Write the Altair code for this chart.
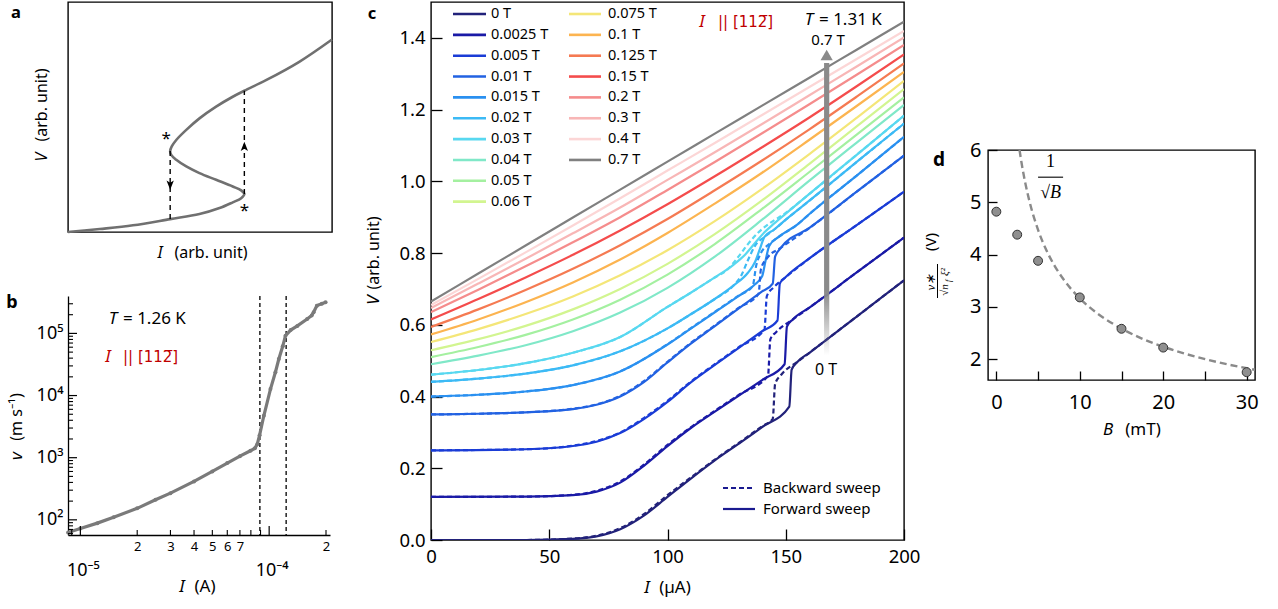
import altair as alt
import pandas as pd

FONT = "Noto Sans"
SERIF = "Liberation Serif"
MILLER = "DejaVu Sans"

# ======================= DATA =======================
# ---- panel a : schematic S-shaped V(I) ----
a_I = [0.0, 0.12, 0.246, 0.387, 0.498, 0.574, 0.624, 0.656, 0.668, 0.656, 0.624, 0.561, 0.498,
       0.448, 0.41, 0.391, 0.387, 0.393, 0.41, 0.448, 0.498, 0.561, 0.624, 0.668, 0.75, 0.876, 1.0]
a_V = [0.0, 0.013, 0.029, 0.056, 0.078, 0.104, 0.129, 0.147, 0.165, 0.181, 0.198, 0.227, 0.256,
       0.285, 0.314, 0.335, 0.352, 0.372, 0.40, 0.444, 0.494, 0.545, 0.588, 0.614, 0.66, 0.74, 0.837]
a_dash_I = [0.387, 0.668]
a_dash_lo = [0.056, 0.165]
a_dash_hi = [0.352, 0.614]
a_arrow_I = [0.387, 0.668]
a_arrow_V = [0.205, 0.371]
a_arrow_dir = ["down", "up"]
a_star_I = [0.372, 0.668]
a_star_V = [0.405, 0.092]

# ---- panel b : v(I) log-log ----
b_I = [8.61e-6, 1.0e-5, 1.23e-5, 1.5e-5, 2.0e-5, 2.5e-5, 3.0e-5, 4.0e-5, 5.0e-5, 6.0e-5, 7.0e-5,
       7.96e-5, 8.4e-5, 8.65e-5, 8.9e-5, 9.37e-5, 1.016e-4, 1.079e-4, 1.125e-4, 1.18e-4, 1.22e-4,
       1.30e-4, 1.41e-4, 1.59e-4, 1.68e-4, 1.72e-4, 1.79e-4, 1.9e-4, 1.99e-4]
b_v = [62.7, 72.4, 88.5, 110, 153, 210, 269, 415, 601, 818, 1057,
       1292, 1420, 1650, 2300, 4730, 12700, 23700, 38700, 62000, 91800,
       113000, 132000, 170600, 195000, 219000, 280000, 300000, 316000]
b_vlines = [8.93e-5, 1.23e-4]
b_xlabels = [2e-5, 3e-5, 4e-5, 5e-5, 6e-5, 7e-5, 2e-4]
b_xmajor = [1e-5, 1e-4]
b_xmajor_text = ["10⁻⁵", "10⁻⁴"]
b_xminor = [9e-6, 2e-5, 3e-5, 4e-5, 5e-5, 6e-5, 7e-5, 8e-5, 9e-5, 2e-4]
b_ymajor = [1e2, 1e3, 1e4, 1e5]
b_yminor = [60, 70, 80, 90, 200, 300, 400, 500, 600, 700, 800, 900,
            2e3, 3e3, 4e3, 5e3, 6e3, 7e3, 8e3, 9e3,
            2e4, 3e4, 4e4, 5e4, 6e4, 7e4, 8e4, 9e4, 2e5, 3e5]

# ---- panel c : V(I) curves for several fields ----
c_fields = ["0 T", "0.0025 T", "0.005 T", "0.01 T", "0.015 T", "0.02 T", "0.03 T", "0.04 T",
            "0.05 T", "0.06 T", "0.075 T", "0.1 T", "0.125 T", "0.15 T", "0.2 T", "0.3 T",
            "0.4 T", "0.7 T"]
c_colors = ["#22227a", "#1a1aa6", "#1a3cd6", "#2262e2", "#2a90f0", "#3cbaf5", "#58d8f0", "#80e8c8",
            "#a4f0a0", "#d2f590", "#f4e678", "#fcb450", "#f57a52", "#f44c4c", "#f58c8c", "#f8b6b6",
            "#fcd6d6", "#808080"]

# forward sweeps (solid)
fw_0T_I = [0, 40, 60, 70, 80, 90, 100, 110, 120, 130, 140, 151.5, 152.5, 155, 160, 180, 200]
fw_0T_V = [0.0, 0.0, 0.003, 0.01, 0.03, 0.068, 0.12, 0.172, 0.222, 0.268, 0.315, 0.372, 0.475, 0.497, 0.522, 0.623, 0.724]
fw_0025_I = [0, 40, 60, 70, 80, 90, 100, 110, 120, 130, 140, 149.5, 150.5, 153, 160, 180, 200]
fw_0025_V = [0.12, 0.121, 0.125, 0.135, 0.16, 0.207, 0.262, 0.313, 0.358, 0.402, 0.446, 0.49, 0.595, 0.615, 0.648, 0.746, 0.843]
fw_005_I = [0, 40, 60, 70, 80, 90, 100, 110, 120, 130, 140, 146.5, 147.5, 150, 160, 180, 200]
fw_005_V = [0.25, 0.253, 0.262, 0.274, 0.298, 0.337, 0.385, 0.44, 0.488, 0.535, 0.582, 0.612, 0.715, 0.733, 0.785, 0.878, 0.971]
fw_01_I = [0, 20, 40, 60, 70, 80, 90, 100, 110, 120, 130, 140, 144.5, 145.5, 148, 160, 180, 200]
fw_01_V = [0.35, 0.352, 0.356, 0.365, 0.377, 0.40, 0.44, 0.495, 0.548, 0.596, 0.645, 0.693, 0.715, 0.79, 0.815, 0.87, 0.971, 1.072]
fw_015_I = [0, 20, 40, 60, 80, 100, 110, 120, 130, 137, 140, 141.5, 143, 147, 155, 160, 180, 200]
fw_015_V = [0.40, 0.405, 0.414, 0.432, 0.47, 0.545, 0.59, 0.635, 0.68, 0.713, 0.735, 0.78, 0.82, 0.845, 0.88, 0.909, 1.016, 1.124]
fw_02_I = [0, 20, 40, 60, 80, 100, 110, 120, 128, 134, 137, 139, 141, 145, 150, 160, 180, 200]
fw_02_V = [0.441, 0.45, 0.464, 0.487, 0.526, 0.59, 0.63, 0.672, 0.71, 0.745, 0.775, 0.81, 0.845, 0.865, 0.893, 0.946, 1.054, 1.161]
fw_03_I = [0, 20, 40, 60, 80, 100, 110, 120, 128, 133, 137, 141, 145, 150, 160, 180, 200]
fw_03_V = [0.461, 0.474, 0.493, 0.522, 0.566, 0.65, 0.69, 0.732, 0.768, 0.797, 0.828, 0.858, 0.882, 0.91, 0.965, 1.074, 1.183]

# backward sweeps (dashed)
bw_0T_I = [0, 40, 60, 70, 80, 90, 100, 110, 120, 130, 140, 144.5, 145.5, 148, 155, 160, 180, 200]
bw_0T_V = [0.0, 0.0, 0.004, 0.012, 0.033, 0.072, 0.125, 0.175, 0.224, 0.27, 0.317, 0.338, 0.435, 0.46, 0.497, 0.522, 0.623, 0.724]
bw_0025_I = [0, 40, 60, 70, 80, 90, 100, 110, 120, 130, 142.5, 143.5, 146, 153, 160, 180, 200]
bw_0025_V = [0.12, 0.121, 0.126, 0.137, 0.163, 0.21, 0.265, 0.315, 0.36, 0.404, 0.458, 0.56, 0.58, 0.615, 0.648, 0.746, 0.843]
bw_005_I = [0, 40, 60, 70, 80, 90, 100, 110, 120, 130, 141, 142, 145, 150, 160, 180, 200]
bw_005_V = [0.25, 0.253, 0.263, 0.276, 0.3, 0.34, 0.388, 0.442, 0.49, 0.537, 0.587, 0.68, 0.705, 0.733, 0.785, 0.878, 0.971]
bw_01_I = [0, 20, 40, 60, 70, 80, 90, 100, 110, 120, 130, 138.5, 139.5, 142, 148, 160, 180, 200]
bw_01_V = [0.35, 0.352, 0.356, 0.366, 0.378, 0.402, 0.443, 0.497, 0.55, 0.598, 0.647, 0.686, 0.755, 0.785, 0.815, 0.87, 0.971, 1.072]
bw_015_I = [0, 20, 40, 60, 80, 100, 110, 120, 130, 136, 137.5, 139.5, 143, 147, 155, 160, 180, 200]
bw_015_V = [0.40, 0.405, 0.414, 0.432, 0.47, 0.546, 0.591, 0.636, 0.681, 0.708, 0.765, 0.80, 0.825, 0.845, 0.88, 0.909, 1.016, 1.124]
bw_02_I = [0, 20, 40, 60, 80, 100, 110, 120, 128, 131, 134, 137, 141, 145, 150, 160, 180, 200]
bw_02_V = [0.441, 0.45, 0.464, 0.487, 0.526, 0.59, 0.63, 0.672, 0.71, 0.735, 0.78, 0.82, 0.845, 0.865, 0.893, 0.946, 1.054, 1.161]
bw_03_I = [0, 20, 40, 60, 80, 100, 110, 120, 125, 130, 134, 138, 143, 150, 160, 180, 200]
bw_03_V = [0.461, 0.474, 0.493, 0.522, 0.566, 0.65, 0.69, 0.732, 0.752, 0.79, 0.825, 0.855, 0.882, 0.912, 0.965, 1.074, 1.183]

# higher-field curves (no hysteresis), sampled at common currents
c_hi_I = [0, 20, 40, 60, 80, 100, 120, 140, 160, 180, 200]
hi_004 = [0.490, 0.514, 0.543, 0.582, 0.634, 0.703, 0.790, 0.893, 1.002, 1.108, 1.213]
hi_005 = [0.510, 0.538, 0.572, 0.615, 0.670, 0.740, 0.825, 0.923, 1.026, 1.130, 1.234]
hi_006 = [0.529, 0.560, 0.597, 0.643, 0.700, 0.770, 0.853, 0.947, 1.049, 1.153, 1.257]
hi_0075 = [0.552, 0.588, 0.630, 0.679, 0.738, 0.808, 0.889, 0.979, 1.076, 1.177, 1.280]
hi_01 = [0.573, 0.615, 0.663, 0.718, 0.782, 0.856, 0.938, 1.024, 1.116, 1.210, 1.305]
hi_0125 = [0.594, 0.643, 0.697, 0.756, 0.822, 0.895, 0.975, 1.058, 1.145, 1.236, 1.329]
hi_015 = [0.615, 0.672, 0.732, 0.795, 0.863, 0.936, 1.014, 1.095, 1.178, 1.265, 1.354]
hi_02 = [0.635, 0.698, 0.763, 0.830, 0.900, 0.976, 1.054, 1.134, 1.215, 1.297, 1.380]
hi_03 = [0.647, 0.715, 0.784, 0.855, 0.927, 1.004, 1.081, 1.160, 1.240, 1.320, 1.401]
hi_04 = [0.655, 0.728, 0.802, 0.877, 0.953, 1.030, 1.107, 1.185, 1.263, 1.341, 1.419]
hi_07 = [0.665, 0.743, 0.821, 0.899, 0.977, 1.055, 1.133, 1.211, 1.289, 1.367, 1.445]

# ---- panel d ----
d_B = [0, 2.5, 5, 10, 15, 20, 30]
d_y = [4.82, 4.38, 3.88, 3.18, 2.58, 2.22, 1.75]
d_fit_B = [2.78, 3.0, 3.5, 4, 5, 6, 7, 8, 10, 12, 14, 17, 20, 24, 28, 31]
d_fit_y = [6.0, 5.774, 5.345, 5.0, 4.472, 4.082, 3.780, 3.536, 3.162, 2.887, 2.673, 2.425, 2.236, 2.041, 1.890, 1.796]

# ======================= HELPERS =======================
def ptext(s, x, y, size=16, angle=0, italic=False, bold=False, color="black",
          align="center", baseline="middle", font=FONT):
    kw = dict(align=align, baseline=baseline, fontSize=size, color=color, font=font)
    if angle:
        kw["angle"] = angle
    if italic:
        kw["fontStyle"] = "italic"
    if bold:
        kw["fontWeight"] = "bold"
    return alt.Chart(pd.DataFrame({"t": [s]})).mark_text(**kw).encode(
        x=alt.value(x), y=alt.value(y), text="t:N")


# ======================= PANEL A =======================
WA, HA = 264, 230
XA = alt.X("I:Q", scale=alt.Scale(domain=[0, 1], nice=False), axis=None)
YA = alt.Y("V:Q", scale=alt.Scale(domain=[0, 1], nice=False), axis=None)
P_UP = "M0,-1L0.75,0.9L0,0.45L-0.75,0.9Z"
P_DOWN = "M0,1L0.75,-0.9L0,-0.45L-0.75,-0.9Z"

a_curve = alt.Chart(pd.DataFrame({"I": a_I, "V": a_V, "k": list(range(len(a_I)))})).mark_line(
    interpolate="catmull-rom", color="#707070", strokeWidth=2.6).encode(x=XA, y=YA, order="k:Q")
a_dash = alt.Chart(pd.DataFrame({"I": a_dash_I, "V": a_dash_lo, "V2": a_dash_hi})).mark_rule(
    strokeDash=[5, 4], color="black", strokeWidth=1.4).encode(x=XA, y=YA, y2="V2:Q")
a_arr = alt.Chart(pd.DataFrame({"I": a_arrow_I, "V": a_arrow_V, "dir": a_arrow_dir})).mark_point(
    filled=True, color="black", opacity=1, size=95, strokeWidth=0).encode(
    x=XA, y=YA,
    shape=alt.Shape("dir:N", scale=alt.Scale(domain=["down", "up"], range=[P_DOWN, P_UP]), legend=None))
a_star = alt.Chart(pd.DataFrame({"I": a_star_I, "V": a_star_V})).mark_text(
    text="*", fontSize=17, font=FONT).encode(x=XA, y=YA)

panel_a = alt.layer(
    a_curve, a_dash, a_arr, a_star,
    ptext("V", -26, 155, 16, angle=270, italic=True),
    ptext("(arb. unit)", -26, 103, 16, angle=270),
    ptext("I", 92, 251, 16, italic=True),
    ptext("(arb. unit)", 143, 251, 16),
    ptext("a", -52, 16, 16.5, bold=True, baseline="alphabetic"),
).properties(width=WA, height=HA)

# ======================= PANEL B =======================
WB, HB = 262, 239
XS_B = alt.Scale(type="log", domain=[8.6e-6, 2.1e-4], nice=False)
YS_B = alt.Scale(type="log", domain=[57, 4.0e5], nice=False)
AX_BX = alt.Axis(values=b_xlabels,
                 labelExpr="round(datum.value*1e5) < 10 ? '' + round(datum.value*1e5) : '' + round(datum.value*1e4)",
                 ticks=False, domain=True, domainWidth=1.3, labelFontSize=13, labelPadding=5,
                 title=None, grid=False, labelFlush=False, labelOverlap=False)
AX_BY = alt.Axis(values=b_ymajor,
                 labelExpr="datum.value < 500 ? '10²' : datum.value < 5000 ? '10³' : datum.value < 50000 ? '10⁴' : '10⁵'",
                 ticks=False, domain=True, domainWidth=1.3, labelFontSize=18, labelPadding=5,
                 title=None, grid=False, labelFlush=False, labelOverlap=False)
XB = alt.X("I:Q", scale=XS_B, axis=AX_BX)
YB = alt.Y("v:Q", scale=YS_B, axis=AX_BY)

b_df = pd.DataFrame({"I": b_I, "v": b_v})
b_line = alt.Chart(b_df).mark_line(color="#7a7a7a", strokeWidth=3.2).encode(x=XB, y=YB)
b_pts = alt.Chart(b_df).mark_circle(color="#7a7a7a", opacity=1, size=16).encode(x=XB, y=YB)
b_vl = alt.Chart(pd.DataFrame({"I": b_vlines})).mark_rule(
    strokeDash=[4, 3], color="black", strokeWidth=1.3).encode(x=XB)
b_xtM = alt.Chart(pd.DataFrame({"I": b_xmajor})).mark_rule(color="black", strokeWidth=1.2).encode(
    x=XB, y=alt.value(HB), y2=alt.value(HB - 9))
b_xtm = alt.Chart(pd.DataFrame({"I": b_xminor})).mark_rule(color="black", strokeWidth=1.1).encode(
    x=XB, y=alt.value(HB), y2=alt.value(HB - 5))
b_ytM = alt.Chart(pd.DataFrame({"v": b_ymajor})).mark_rule(color="black", strokeWidth=1.2).encode(
    y=YB, x=alt.value(0), x2=alt.value(9))
b_ytm = alt.Chart(pd.DataFrame({"v": b_yminor})).mark_rule(color="black", strokeWidth=1.1).encode(
    y=YB, x=alt.value(0), x2=alt.value(5))
b_major_lbl = alt.Chart(pd.DataFrame({"I": b_xmajor, "t": b_xmajor_text})).mark_text(
    fontSize=18, font=FONT, baseline="middle", dx=3).encode(x=XB, y=alt.value(HB + 36), text="t:N")

panel_b = alt.layer(
    b_vl, b_line, b_pts, b_xtM, b_xtm, b_ytM, b_ytm, b_major_lbl,
    ptext("T", 45, 23, 17, italic=True),
    ptext("= 1.26 K", 55, 23, 17, align="left"),
    ptext("I", 40, 61, 17, italic=True, color="#c00000"),
    ptext("||  [112\u0305]", 55, 61, 15, align="left", color="#c00000", font=MILLER),
    ptext("v", -51, 160, 17, angle=270, italic=True),
    ptext("(m s⁻¹)", -51, 121, 16, angle=270),
    ptext("I", 114, 291, 17, italic=True),
    ptext("(A)", 137, 291, 17),
    ptext("b", -56, 12, 18, bold=True, baseline="alphabetic"),
).properties(width=WB, height=HB, view=alt.ViewBackground(stroke="transparent"))

# ======================= PANEL C =======================
WC, HC = 473, 538


def cI(px):
    return px / WC * 200.0


def cV(py):
    return 1.5 - py / HC * 1.5


AX_CX = alt.Axis(values=[0, 50, 100, 150, 200], title=None, labelFontSize=18.5, tickSize=11,
                 offset=-11, domain=False, labelPadding=7, tickWidth=1.3, grid=False,
                 labelFlush=False, labelOverlap=False)
AX_CY = alt.Axis(values=[0, 0.2, 0.4, 0.6, 0.8, 1.0, 1.2, 1.4], format=".1f", title=None,
                 labelFontSize=18.5, tickSize=11, offset=-11, domain=False, labelPadding=6,
                 tickWidth=1.3, grid=False, labelFlush=False, labelOverlap=False)
XC = alt.X("I:Q", scale=alt.Scale(domain=[0, 200], nice=False), axis=AX_CX)
YC = alt.Y("V:Q", scale=alt.Scale(domain=[0, 1.5], nice=False), axis=AX_CY)
CC = alt.Color("label:N", scale=alt.Scale(domain=c_fields, range=c_colors), legend=None)

fw = {"0 T": (fw_0T_I, fw_0T_V), "0.0025 T": (fw_0025_I, fw_0025_V), "0.005 T": (fw_005_I, fw_005_V),
      "0.01 T": (fw_01_I, fw_01_V), "0.015 T": (fw_015_I, fw_015_V), "0.02 T": (fw_02_I, fw_02_V),
      "0.03 T": (fw_03_I, fw_03_V)}
for lab, vals in [("0.04 T", hi_004), ("0.05 T", hi_005), ("0.06 T", hi_006), ("0.075 T", hi_0075),
                  ("0.1 T", hi_01), ("0.125 T", hi_0125), ("0.15 T", hi_015), ("0.2 T", hi_02),
                  ("0.3 T", hi_03), ("0.4 T", hi_04), ("0.7 T", hi_07)]:
    fw[lab] = (c_hi_I, vals)
bw = {"0 T": (bw_0T_I, bw_0T_V), "0.0025 T": (bw_0025_I, bw_0025_V), "0.005 T": (bw_005_I, bw_005_V),
      "0.01 T": (bw_01_I, bw_01_V), "0.015 T": (bw_015_I, bw_015_V), "0.02 T": (bw_02_I, bw_02_V),
      "0.03 T": (bw_03_I, bw_03_V)}


def long_df(d):
    rows = []
    for lab, (Is, Vs) in d.items():
        for i, v in zip(Is, Vs):
            rows.append({"label": lab, "I": i, "V": v})
    return pd.DataFrame(rows)


c_fw = alt.Chart(long_df(fw)).mark_line(interpolate="monotone", strokeWidth=2.2, clip=True).encode(
    x=XC, y=YC, color=CC)
c_bw = alt.Chart(long_df(bw)).mark_line(interpolate="monotone", strokeWidth=2.2, strokeDash=[5, 3],
                                        clip=True).encode(x=XC, y=YC, color=CC)

# legend (two columns), placed in plot coordinates
leg_sym, leg_txt = [], []
for k, lab in enumerate(c_fields[:10]):
    leg_sym.append({"label": lab, "I": cI(22), "I2": cI(55), "V": cV(12 + 20.85 * k)})
    leg_txt.append({"label": lab, "I": cI(60), "V": cV(12 + 20.85 * k)})
for k, lab in enumerate(c_fields[10:]):
    leg_sym.append({"label": lab, "I": cI(138), "I2": cI(170), "V": cV(12 + 20.85 * k)})
    leg_txt.append({"label": lab, "I": cI(177), "V": cV(12 + 20.85 * k)})
c_leg_sym = alt.Chart(pd.DataFrame(leg_sym)).mark_rule(strokeWidth=2.6).encode(
    x=XC, x2="I2:Q", y=YC, color=CC)
c_leg_txt = alt.Chart(pd.DataFrame(leg_txt)).mark_text(
    align="left", baseline="middle", fontSize=14.5, font=FONT, color="black").encode(
    x=XC, y=YC, text="label:N")

sw_dash = alt.Chart(pd.DataFrame({"I": [cI(292)], "I2": [cI(324)], "V": [cV(486)]})).mark_rule(
    strokeWidth=2.2, strokeDash=[5, 3], color="#1a1a90").encode(x=XC, x2="I2:Q", y=YC)
sw_solid = alt.Chart(pd.DataFrame({"I": [cI(292)], "I2": [cI(324)], "V": [cV(507)]})).mark_rule(
    strokeWidth=2.2, color="#1a1a90").encode(x=XC, x2="I2:Q", y=YC)
sw_txt = alt.Chart(pd.DataFrame({"I": [cI(332), cI(332)], "V": [cV(486), cV(507)],
                                 "t": ["Backward sweep", "Forward sweep"]})).mark_text(
    align="left", baseline="middle", fontSize=15, font=FONT, color="black").encode(x=XC, y=YC, text="t:N")

grad = alt.LinearGradient(gradient="linear", x1=0, x2=0, y1=0, y2=1,
                          stops=[alt.GradientStop(color="#8a8a8a", offset=0),
                                 alt.GradientStop(color="#8a8a8a", offset=0.78),
                                 alt.GradientStop(color="rgba(138,138,138,0)", offset=1)])
c_shaft = alt.Chart(pd.DataFrame({"I": [166.2], "I2": [168.4], "V": [0.515], "V2": [1.33]})).mark_rect(
    fill=grad, strokeWidth=0).encode(x=XC, x2="I2:Q", y=YC, y2="V2:Q")
c_head = alt.Chart(pd.DataFrame({"I": [167.3], "V": [cV(53)]})).mark_point(
    shape="triangle-up", filled=True, color="#8a8a8a", opacity=1, size=150, strokeWidth=0).encode(x=XC, y=YC)


def ctext(s, I, V, size=16, italic=False, color="black", align="center", font=FONT):
    kw = dict(align=align, baseline="middle", fontSize=size, color=color, font=font)
    if italic:
        kw["fontStyle"] = "italic"
    return alt.Chart(pd.DataFrame({"I": [I], "V": [V], "t": [s]})).mark_text(**kw).encode(
        x=XC, y=YC, text="t:N")


panel_c = alt.layer(
    c_fw, c_bw, c_leg_sym, c_leg_txt, sw_dash, sw_solid, sw_txt, c_shaft, c_head,
    ctext("I", cI(271), cV(20), 17, italic=True, color="#c00000"),
    ctext("||  [112\u0305]", cI(287), cV(20), 15, color="#c00000", align="left", font=MILLER),
    ctext("T", cI(378), cV(18), 17, italic=True),
    ctext("= 1.31 K", cI(388), cV(18), 17, align="left"),
    ctext("0.7 T", cI(397), cV(38), 15),
    ctext("0 T", cI(395), cV(368), 16),
    ptext("V", -57, 298, 17, angle=270, italic=True),
    ptext("(arb. unit)", -57, 251, 16, angle=270),
    ptext("I", 216, 586, 17, italic=True),
    ptext("(µA)", 244, 586, 17),
    ptext("c", -59, 16.5, 16.5, bold=True, baseline="alphabetic"),
).properties(width=WC, height=HC)

# ======================= PANEL D =======================
WD, HD = 267, 230
AX_DX = alt.Axis(values=[0, 5, 10, 15, 20, 25, 30], labelExpr="datum.value % 10 == 0 ? datum.label : ''",
                 title=None, labelFontSize=20, tickSize=9, offset=-9, domain=False, labelPadding=12,
                 tickWidth=1.3, grid=False, labelFlush=False, labelOverlap=False)
AX_DY = alt.Axis(values=[2, 3, 4, 5, 6], title=None, labelFontSize=20, tickSize=9, offset=-9,
                 domain=False, labelPadding=7, tickWidth=1.3, grid=False, labelFlush=False,
                 labelOverlap=False)
XD = alt.X("B:Q", scale=alt.Scale(domain=[-1, 31], nice=False), axis=AX_DX)
YD = alt.Y("y:Q", scale=alt.Scale(domain=[1.6, 6], nice=False), axis=AX_DY)

d_fit = alt.Chart(pd.DataFrame({"B": d_fit_B, "y": d_fit_y})).mark_line(
    interpolate="monotone", strokeDash=[7, 4], color="#8a8a8a", strokeWidth=2.4).encode(x=XD, y=YD)
d_pts = alt.Chart(pd.DataFrame({"B": d_B, "y": d_y})).mark_circle(
    size=80, color="#8f8f8f", opacity=1, stroke="#333333", strokeWidth=1).encode(x=XD, y=YD)
d_one = alt.Chart(pd.DataFrame({"B": [6.5], "y": [5.77], "t": ["1"]})).mark_text(
    fontSize=18, font=SERIF, baseline="middle").encode(x=XD, y=YD, text="t:N")
d_bar = alt.Chart(pd.DataFrame({"B": [5.0], "B2": [8.0], "y": [5.48]})).mark_rule(
    color="black", strokeWidth=1.1).encode(x=XD, x2="B2:Q", y=YD)
d_sqrt = alt.Chart(pd.DataFrame({"B": [6.5], "y": [5.18], "t": ["√B"]})).mark_text(
    fontSize=18, font=SERIF, fontStyle="italic", baseline="middle").encode(x=XD, y=YD, text="t:N")
d_fbar = alt.Chart(pd.DataFrame({"z": [0]})).mark_rule(color="black", strokeWidth=1).encode(
    x=alt.value(-50.5), y=alt.value(114), y2=alt.value(148))

panel_d = alt.layer(
    d_fit, d_pts, d_one, d_bar, d_sqrt, d_fbar,
    ptext("(V)", -57, 92, 15, angle=270),
    ptext("v∗", -57, 132, 13, angle=270, italic=True, font=SERIF),
    ptext("√n", -43, 140, 11, angle=270, italic=True, font=SERIF),
    ptext("f", -39, 131, 8, angle=270, italic=True, font=SERIF),
    ptext("ξ²", -43, 122, 11, angle=270, italic=True, font=SERIF),
    ptext("B", 120, 280, 17, italic=True),
    ptext("(mT)", 155, 280, 17),
    ptext("d", -49, 16, 19, bold=True, baseline="alphabetic"),
).properties(width=WD, height=HD)

spacer = alt.Chart(pd.DataFrame({"z": [0]})).mark_point(opacity=0, size=1).encode(
    x=alt.value(0), y=alt.value(0)).properties(width=WD, height=126,
                                               view=alt.ViewBackground(stroke="transparent"))

left = alt.vconcat(panel_a, panel_b, spacing=31)
mid = alt.hconcat(left, panel_c, spacing=26)
right = alt.vconcat(spacer, panel_d, spacing=10)

chart = alt.hconcat(mid, right, spacing=2).properties(
    padding={"left": 5, "top": 0, "right": 4, "bottom": 4}
).configure_view(stroke="black", strokeWidth=1.4).configure_axis(
    labelFont=FONT, titleFont=FONT, labelColor="black", tickColor="black", domainColor="black"
)

chart.save("out.html", embed_options={"renderer": "svg", "actions": False})
